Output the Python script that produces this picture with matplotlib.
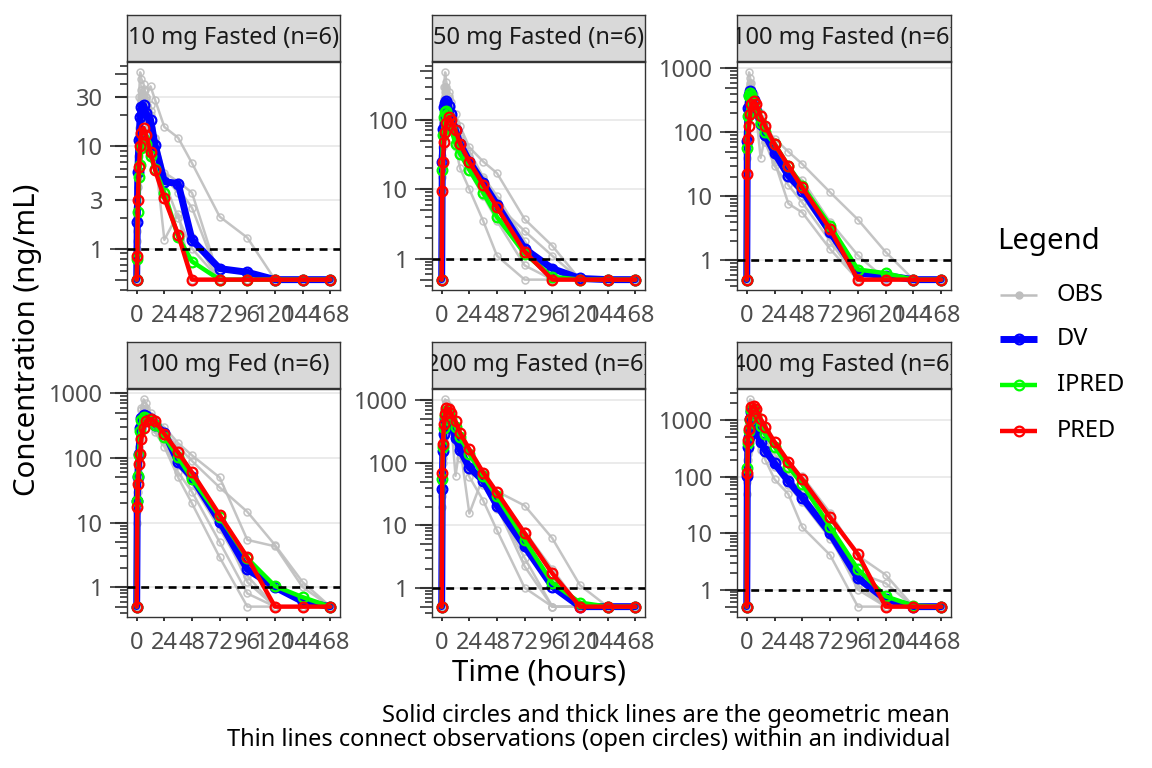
import matplotlib
matplotlib.use('Agg')
import matplotlib.pyplot as plt
import numpy as np
from matplotlib.lines import Line2D

plt.rcParams['font.family'] = ['Noto Sans', 'DejaVu Sans']

# ---------------- data ----------------
times = [0, 0.5, 1, 2, 3, 4, 6, 8, 12, 16, 24, 36, 48, 72, 96, 120, 144, 168]
x_ticks = [0, 24, 48, 72, 96, 120, 144, 168]
lloq = 1.0

panel_titles = ["10 mg Fasted (n=6)", "50 mg Fasted (n=6)", "100 mg Fasted (n=6)",
                "100 mg Fed (n=6)", "200 mg Fasted (n=6)", "400 mg Fasted (n=6)"]

y_ticks_p1 = [1, 3, 10, 30]
y_ticks_p2 = [1, 10, 100]
y_ticks_p3 = [1, 10, 100, 1000]
y_ticks_p4 = [1, 10, 100, 1000]
y_ticks_p5 = [1, 10, 100, 1000]
y_ticks_p6 = [1, 10, 100, 1000]

# Panel 1: 10 mg Fasted
dv_p1 = [0.5, 1.8, 5.6, 11.4, 19, 24, 25, 21, 18, 10.2, 4.5, 4.3, 1.22, 0.64, 0.59, 0.5, 0.5, 0.5]
ipred_p1 = [0.5, 0.8, 2.3, 5.0, 6.5, 9.6, 11.6, 10.5, 7.9, 6.0, 3.5, 1.3, 0.75, 0.5, 0.5, 0.5, 0.5, 0.5]
pred_p1 = [0.5, 0.85, 3.0, 6.3, 10, 13.5, 15, 12.7, 8.8, 5.8, 3.1, 1.37, 0.5, 0.5, 0.5, 0.5, 0.5, 0.5]
obs_p1 = [
    [0.5, 3, 12, 30, 52, 45, 40, 30, 25, 12, 5, 3.5, 1.3, 0.5, 0.5, 0.5, 0.5, 0.5],
    [0.5, 1, 4, 10, 20, 30, 34, 30, 38, 28, 15.3, 12, 6.8, 2.05, 1.28, 0.5, 0.5, 0.5],
    [0.5, 2, 8, 15, 25, 35, 30, 25, 20, 8, 1.22, 2.2, 0.5, 0.5, 0.5, 0.5, 0.5, 0.5],
    [0.5, 1.5, 5, 10, 18, 22, 25, 20, 15, 9, 5, 3.9, 2.5, 0.5, 0.5, 0.5, 0.5, 0.5],
    [0.5, 2.5, 6, 12, 20, 28, 36, 28, 22, 12, 5.5, 4.5, 3.5, 0.5, 0.5, 0.5, 0.5, 0.5],
    [0.5, 1.2, 3, 8, 14, 18, 20, 16, 12, 8, 4.5, 2.0, 1.0, 0.5, 0.5, 0.5, 0.5, 0.5],
]

# Panel 2: 50 mg Fasted
dv_p2 = [0.5, 25, 74, 150, 176, 186, 160, 120, 70, 45, 25, 12.3, 6.0, 1.39, 0.72, 0.52, 0.5, 0.5]
ipred_p2 = [0.5, 19, 60, 110, 130, 134, 110, 75, 45, 32, 19, 8.9, 4.0, 1.18, 0.55, 0.5, 0.5, 0.5]
pred_p2 = [0.5, 9.3, 25, 48, 67, 91, 108, 100, 70, 45, 24.8, 11.6, 5.5, 1.26, 0.5, 0.5, 0.5, 0.5]
obs_p2 = [
    [0.5, 40, 150, 300, 480, 350, 250, 180, 122, 80, 40, 25, 17, 3.7, 1.53, 0.5, 0.5, 0.5],
    [0.5, 20, 80, 200, 300, 250, 200, 120, 70, 45, 25, 12, 6, 2.5, 1.1, 0.5, 0.5, 0.5],
    [0.5, 15, 50, 120, 180, 200, 150, 100, 40, 20, 10, 3.5, 1.1, 0.5, 0.5, 0.5, 0.5, 0.5],
    [0.5, 30, 90, 180, 250, 280, 220, 150, 90, 60, 35, 15, 8, 1.8, 0.5, 0.5, 0.5, 0.5],
    [0.5, 10, 40, 100, 150, 180, 140, 90, 55, 35, 18, 8, 3.5, 0.8, 0.5, 0.5, 0.5, 0.5],
    [0.5, 25, 70, 160, 220, 300, 200, 130, 80, 55, 30, 14, 7, 1.2, 0.5, 0.5, 0.5, 0.5],
]

# Panel 3: 100 mg Fasted
dv_p3 = [0.5, 73, 240, 390, 440, 420, 320, 220, 135, 90, 48, 21, 12.3, 2.76, 0.63, 0.58, 0.5, 0.5]
ipred_p3 = [0.5, 57, 180, 370, 418, 380, 300, 210, 140, 100, 66, 30, 14.7, 3.5, 0.72, 0.63, 0.5, 0.5]
pred_p3 = [0.5, 22.5, 80, 126, 194, 277, 307, 280, 180, 126, 66, 30, 13.8, 3.1, 0.5, 0.5, 0.5, 0.5]
obs_p3 = [
    [0.5, 100, 400, 870, 700, 600, 400, 280, 200, 120, 80, 50, 32, 11.6, 4.35, 1.35, 0.5, 0.5],
    [0.5, 50, 200, 400, 500, 450, 350, 200, 40, 90, 40, 20, 10, 2.5, 0.5, 0.5, 0.5, 0.5],
    [0.5, 80, 300, 500, 600, 500, 300, 200, 120, 70, 35, 7.7, 5.6, 1.5, 0.5, 0.5, 0.5, 0.5],
    [0.5, 60, 250, 350, 400, 380, 300, 220, 150, 100, 55, 25, 13, 3, 0.5, 0.5, 0.5, 0.5],
    [0.5, 40, 150, 300, 350, 420, 320, 200, 110, 70, 30, 15, 8, 2, 0.5, 0.5, 0.5, 0.5],
    [0.5, 90, 280, 450, 550, 480, 350, 250, 160, 110, 60, 25, 18, 4, 1.2, 0.5, 0.5, 0.5],
]

# Panel 4: 100 mg Fed
dv_p4 = [0.5, 22, 50, 117, 294, 420, 470, 440, 400, 330, 248, 86, 50, 10.4, 1.89, 1.0, 0.6, 0.5]
ipred_p4 = [0.5, 22, 52, 110, 260, 390, 430, 420, 380, 320, 212, 102, 48, 12.4, 2.8, 1.04, 0.7, 0.5]
pred_p4 = [0.5, 17.6, 40, 82, 117, 198, 294, 373, 400, 370, 236, 122, 60, 13.1, 2.9, 0.5, 0.5, 0.5]
obs_p4 = [
    [0.5, 20, 60, 150, 350, 600, 810, 700, 500, 400, 300, 170, 110, 50, 5.4, 4.3, 1.0, 0.5],
    [0.5, 30, 80, 200, 400, 550, 650, 600, 450, 350, 250, 150, 90, 35, 14.7, 4.5, 1.2, 0.5],
    [0.5, 15, 40, 100, 250, 400, 500, 450, 350, 250, 150, 50, 19.8, 2.9, 0.5, 0.5, 0.5, 0.5],
    [0.5, 25, 50, 120, 300, 450, 550, 500, 400, 300, 200, 80, 40, 8, 1.5, 0.5, 0.5, 0.5],
    [0.5, 10, 30, 80, 200, 300, 380, 400, 350, 280, 180, 60, 30, 5, 0.8, 0.5, 0.5, 0.5],
    [0.5, 35, 70, 150, 320, 420, 480, 450, 380, 300, 250, 100, 55, 10, 1.2, 0.5, 0.5, 0.5],
]

# Panel 5: 200 mg Fasted
dv_p5 = [0.5, 38.6, 155, 290, 500, 630, 550, 400, 253, 160, 84, 52, 20.7, 4.6, 1.05, 0.5, 0.5, 0.5]
ipred_p5 = [0.5, 55, 180, 360, 560, 680, 640, 520, 380, 260, 140, 62, 29, 5.8, 1.2, 0.58, 0.5, 0.5]
pred_p5 = [0.5, 70, 200, 415, 600, 750, 730, 620, 465, 300, 165, 70, 33.7, 7.5, 1.7, 0.5, 0.5, 0.5]
obs_p5 = [
    [0.5, 50, 300, 700, 1040, 900, 700, 500, 62, 200, 100, 60, 35, 20.7, 6.2, 1.1, 0.5, 0.5],
    [0.5, 30, 150, 400, 700, 800, 650, 450, 300, 180, 15.5, 60, 20, 3, 0.5, 0.5, 0.5, 0.5],
    [0.5, 20, 100, 250, 450, 600, 500, 350, 200, 120, 60, 25, 8.3, 1.0, 0.5, 0.5, 0.5, 0.5],
    [0.5, 40, 200, 350, 600, 700, 600, 400, 280, 180, 90, 50, 20, 2.2, 0.5, 0.5, 0.5, 0.5],
    [0.5, 60, 250, 500, 700, 900, 800, 500, 350, 220, 120, 70, 30, 8, 2, 0.5, 0.5, 0.5],
    [0.5, 35, 120, 250, 400, 500, 450, 350, 250, 150, 80, 45, 18, 5, 1.2, 0.5, 0.5, 0.5],
]

# Panel 6: 400 mg Fasted
dv_p6 = [0.5, 101, 340, 510, 1060, 1370, 930, 620, 415, 290, 173, 83, 42.5, 9.9, 1.6, 0.67, 0.5, 0.5]
ipred_p6 = [0.5, 141, 400, 650, 1000, 1500, 1500, 1200, 800, 560, 340, 150, 73, 13, 2.3, 0.76, 0.52, 0.5]
pred_p6 = [0.5, 116, 440, 710, 1060, 1690, 1800, 1600, 1060, 760, 415, 185, 90, 19, 4.25, 0.5, 0.5, 0.5]
obs_p6 = [
    [0.5, 200, 800, 1500, 2340, 2000, 1600, 1000, 600, 400, 250, 150, 101, 23, 4, 1.83, 0.5, 0.5],
    [0.5, 100, 400, 800, 1500, 1800, 1300, 800, 400, 200, 90, 49, 12.7, 4.1, 0.5, 0.5, 0.5, 0.5],
    [0.5, 50, 200, 400, 900, 1200, 1000, 700, 450, 300, 200, 100, 50, 12, 2, 1.3, 0.5, 0.5],
    [0.5, 150, 500, 900, 1300, 1600, 1200, 800, 500, 350, 200, 90, 45, 10, 1.5, 0.5, 0.5, 0.5],
    [0.5, 80, 250, 500, 1000, 1400, 900, 600, 300, 250, 150, 70, 35, 8, 1.2, 0.5, 0.5, 0.5],
    [0.5, 120, 300, 300, 700, 1000, 800, 500, 350, 260, 180, 80, 40, 9, 1.0, 0.5, 0.5, 0.5],
]

panels = [
    (obs_p1, dv_p1, ipred_p1, pred_p1, y_ticks_p1),
    (obs_p2, dv_p2, ipred_p2, pred_p2, y_ticks_p2),
    (obs_p3, dv_p3, ipred_p3, pred_p3, y_ticks_p3),
    (obs_p4, dv_p4, ipred_p4, pred_p4, y_ticks_p4),
    (obs_p5, dv_p5, ipred_p5, pred_p5, y_ticks_p5),
    (obs_p6, dv_p6, ipred_p6, pred_p6, y_ticks_p6),
]

legend_labels = ["OBS", "DV", "IPRED", "PRED"]

# ---------------- style ----------------
W, H = 1152, 768
C_OBS = '#BEBEBE'
C_DV = '#0000FF'
C_IPRED = '#00FF00'
C_PRED = '#FF0000'
C_AX = '#333333'
C_TXT = '#4D4D4D'
TICK_FS = 17
STRIP_FS = 17
TITLE_FS = 21.2
CAP_FS = 17

LW_OBS, LW_DV, LW_MEAN = 1.8, 5.0, 3.2
MS_OBS, MS_MEAN = 5.0, 7.0

col_left = [127, 432, 737]
col_w = [213, 213, 214]
row_top = [62, 389]
row_bot = [290, 617]
strip_h = 46

PX = 72.0 / 100.0  # points per pixel

fig = plt.figure(figsize=(W / 100, H / 100), dpi=100)


def fx(px):
    return px / W


def fy(py):
    return 1 - py / H


for i, (obs, dv, ipred, pred, yt) in enumerate(panels):
    r, c = divmod(i, 3)
    l, w = col_left[c], col_w[c]
    t, b = row_top[r], row_bot[r]
    ax = fig.add_axes([fx(l), fy(b), w / W, (b - t) / H])

    allv = np.concatenate([np.ravel(obs), dv, ipred, pred])
    lo, hi = np.log10(allv.min()), np.log10(allv.max())
    span = hi - lo
    ax.set_yscale('log')
    ax.set_ylim(10 ** (lo - 0.05 * span), 10 ** (hi + 0.05 * span))
    ax.set_xlim(-0.05 * 168, 168 * 1.05)

    for v in yt:
        ax.axhline(v, color='#EBEBEB', lw=1.4, zorder=0)

    common = dict(marker='o', mfc='none', solid_joinstyle='round', solid_capstyle='round')
    for s in obs:
        ax.plot(times, s, color=C_OBS, lw=LW_OBS, ms=MS_OBS, mec=C_OBS, mew=1.1,
                alpha=0.9, zorder=2, **common)
    ax.plot(times, dv, color=C_DV, lw=LW_DV, ms=MS_MEAN, mec=C_DV, mew=1.6, zorder=3, **common)
    ax.plot(times, ipred, color=C_IPRED, lw=LW_MEAN, ms=MS_MEAN, mec=C_IPRED, mew=1.6, zorder=4, **common)
    ax.plot(times, pred, color=C_PRED, lw=LW_MEAN, ms=MS_MEAN, mec=C_PRED, mew=1.6, zorder=5, **common)
    ax.axhline(lloq, color='black', lw=1.9, ls=(0, (3, 2.2)), zorder=6)

    for sp in ax.spines.values():
        sp.set_color(C_AX)
        sp.set_linewidth(1.0)
    ax.set_xticks(x_ticks)
    ax.set_xticklabels([str(v) for v in x_ticks])
    ax.set_yticks(yt)
    ax.set_yticklabels([f"{v:g}" for v in yt])
    ax.yaxis.set_minor_locator(matplotlib.ticker.NullLocator())
    ax.tick_params(axis='x', length=4 * PX, width=1.4, color=C_AX,
                   labelcolor=C_TXT, labelsize=TICK_FS, pad=7)
    ax.tick_params(axis='y', length=12 * PX, width=1.5, color=C_AX,
                   labelcolor=C_TXT, labelsize=TICK_FS, pad=12 * PX)

    # log ticks (outside, left)
    y0, y1 = ax.get_ylim()
    trans = ax.get_yaxis_transform()
    for n in range(int(np.floor(np.log10(y0))) - 1, int(np.ceil(np.log10(y1))) + 1):
        for k in range(1, 10):
            v = k * 10.0 ** n
            if v < y0 or v > y1:
                continue
            L = 17 if k == 1 else (12 if k == 5 else 7)
            ax.plot([-L / w, 0], [v, v], transform=trans, color=C_AX, lw=1.2,
                    clip_on=False, solid_capstyle='butt', zorder=10)

    # strip
    sax = fig.add_axes([fx(l), fy(t - 1), w / W, strip_h / H])
    sax.set_facecolor('#D9D9D9')
    sax.set_xticks([])
    sax.set_yticks([])
    for sp in sax.spines.values():
        sp.set_color(C_AX)
        sp.set_linewidth(1.0)
    sax.text(0.5, 0.5, panel_titles[i], ha='center', va='center',
             fontsize=STRIP_FS, color='#1A1A1A', transform=sax.transAxes,
             clip_on=True)

# axis titles
fig.text(fx(539), fy(673), "Time (hours)", ha='center', va='center',
         fontsize=TITLE_FS, color='black')
fig.text(fx(28), fy(340), "Concentration (ng/mL)", ha='center', va='center',
         rotation=90, fontsize=TITLE_FS, color='black')

# caption
fig.text(fx(950), fy(716), "Solid circles and thick lines are the geometric mean",
         ha='right', va='center', fontsize=CAP_FS, color='black')
fig.text(fx(950), fy(740), "Thin lines connect observations (open circles) within an individual",
         ha='right', va='center', fontsize=CAP_FS, color='black')

# legend (manual)
lax = fig.add_axes([0, 0, 1, 1], facecolor='none')
lax.set_xlim(0, W)
lax.set_ylim(H, 0)
lax.axis('off')
lax.text(997, 242, "Legend", ha='left', va='center', fontsize=TITLE_FS, color='black')
leg_styles = [
    dict(color=C_OBS, lw=LW_OBS, ms=5.0, mfc=C_OBS, mec=C_OBS, mew=1.0),
    dict(color=C_DV, lw=LW_DV, ms=MS_MEAN, mfc='none', mec=C_DV, mew=1.6),
    dict(color=C_IPRED, lw=LW_MEAN, ms=MS_MEAN, mfc='none', mec=C_IPRED, mew=1.6),
    dict(color=C_PRED, lw=LW_MEAN, ms=MS_MEAN, mfc='none', mec=C_PRED, mew=1.6),
]
leg_y = [295, 339, 385, 431]
for lab, st, yy in zip(legend_labels, leg_styles, leg_y):
    lax.add_line(Line2D([1000, 1037], [yy, yy], color=st['color'], lw=st['lw'],
                        solid_capstyle='butt'))
    lax.plot([1018.5], [yy], linestyle='none', marker='o', ms=st['ms'], mfc=st['mfc'],
             mec=st['mec'], mew=st['mew'])
    lax.text(1057, yy, lab, ha='left', va='center', fontsize=TICK_FS, color='black')

fig.savefig('out.png', dpi=100)
